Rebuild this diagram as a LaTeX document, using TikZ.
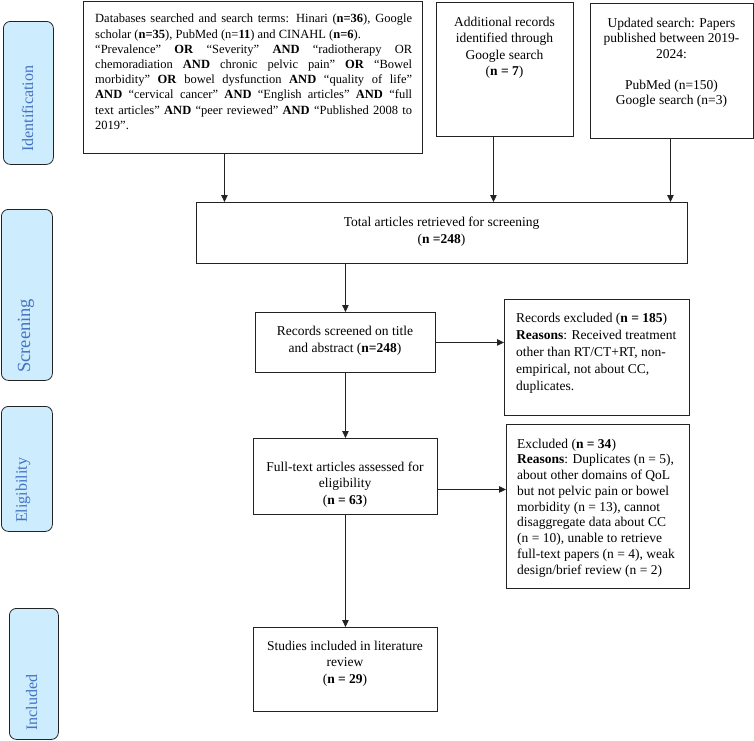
\documentclass[tikz,border=0pt]{standalone}
\usepackage{fontspec}
\setmainfont{Liberation Serif}
\usetikzlibrary{arrows.meta}
\definecolor{lblfill}{RGB}{205,236,253}
\definecolor{lbltext}{RGB}{68,114,196}
\definecolor{edgec}{RGB}{35,35,35}
\begin{document}
\begin{tikzpicture}[x=1pt,y=-1pt,
  box/.style={draw=edgec, line width=0.9pt, inner sep=0pt, anchor=north west},
  lbl/.style={draw=edgec, fill=lblfill, line width=0.8pt, rounded corners=7pt, inner sep=0pt, anchor=north west},
  lbltxt/.style={rotate=90, anchor=base west, inner sep=0pt, text=lbltext, font=\fontsize{16}{19}\selectfont},
  ctxt/.style={anchor=north, inner sep=0pt, align=center, font=\fontsize{13.5}{16.5}\selectfont},
  ltxt/.style={anchor=north west, inner sep=0pt, align=left, font=\fontsize{13.5}{16.5}\selectfont},
  arr/.style={draw=edgec, line width=0.9pt, -{Triangle[length=7pt,width=6.5pt]}}]
\useasboundingbox (0,0) rectangle (754,740);

% stage labels
\node[lbl, minimum width=50pt, minimum height=143pt] (idl) at (3,21) {};
\node[lbltxt] (idt) at (33,152) {Identification};
\node[lbl, minimum width=51pt, minimum height=171pt] (scl) at (1,209) {};
\node[lbltxt, font=\fontsize{18.5}{22}\selectfont] (sct) at (30,373) {Screening};
\node[lbl, minimum width=51pt, minimum height=125pt] (ell) at (1,406) {};
\node[lbltxt] (elt) at (27,523) {Eligibility};
\node[lbl, minimum width=49pt, minimum height=131pt] (inl) at (9,608) {};
\node[lbltxt] (int) at (37,731) {Included};

% boxes
\node[box, minimum width=339pt, minimum height=152.5pt] (db) at (83,0.5) {};
\node[box, minimum width=137pt, minimum height=134pt] (add) at (436,2) {};
\node[box, minimum width=163pt, minimum height=135pt] (upd) at (590,3) {};
\node[box, minimum width=491pt, minimum height=61pt] (tot) at (196,202) {};
\node[box, minimum width=180pt, minimum height=60pt] (rec) at (255,312) {};
\node[box, minimum width=185pt, minimum height=116pt] (exc) at (504,299) {};
\node[box, minimum width=184pt, minimum height=76pt] (ful) at (253,438) {};
\node[box, minimum width=183pt, minimum height=164pt] (ex2) at (506,424) {};
\node[box, minimum width=184pt, minimum height=84pt] (inc) at (253,627) {};

% texts
\node[anchor=north west, inner sep=0pt, text width=317pt, align=justify,
      font=\fontsize{12.5}{15.2}\selectfont] (dbt) at (95,14) {\tolerance=10000\hyphenpenalty=10000
Databases searched and search terms: Hinari (\textbf{n=36}), Google\linebreak
scholar (\textbf{n=35}), PubMed (n=\textbf{11}) and CINAHL (\textbf{n=6}).\newline
“Prevalence” \textbf{OR} “Severity” \textbf{AND} “radiotherapy OR\linebreak
chemoradiation \textbf{AND} chronic pelvic pain” \textbf{OR} “Bowel\linebreak
morbidity” \textbf{OR} bowel dysfunction \textbf{AND} “quality of life”\linebreak
\textbf{AND} “cervical cancer” \textbf{AND} “English articles” \textbf{AND} “full\linebreak
text articles” \textbf{AND} “peer reviewed” \textbf{AND} “Published 2008 to\linebreak
2019”.};
\node[ctxt] (addt) at (504.5,16.5) {Additional records\\identified through\\Google search\\(\textbf{n = 7})};
\node[ctxt, font=\fontsize{13.5}{15.5}\selectfont] (updt) at (671.5,17.5) {Updated search: Papers\\published between 2019-\\2024:\\[15.5pt]PubMed (n=150)\\Google search (n=3)};
\node[ctxt, font=\fontsize{13.5}{17}\selectfont] (tott) at (441.5,216.5) {Total articles retrieved for screening\\(\textbf{n =248})};
\node[ctxt, font=\fontsize{13.5}{17}\selectfont] (rect) at (345,325.5) {Records screened on title\\and abstract (\textbf{n=248})};
\node[ltxt, font=\fontsize{13.5}{17.2}\selectfont] (exct) at (516,312.5) {Records excluded (\textbf{n = 185})\\\textbf{Reasons}: Received treatment\\other than RT/CT+RT, non-\\empirical, not about CC,\\duplicates.};
\node[ctxt] (fult) at (345,461.5) {Full-text articles assessed for\\eligibility\\(\textbf{n = 63})};
\node[ltxt, font=\fontsize{13.5}{15.75}\selectfont] (ex2t) at (517,438.5) {Excluded (\textbf{n = 34})\\\textbf{Reasons}: Duplicates (n = 5),\\about other domains of QoL\\but not pelvic pain or bowel\\morbidity (n = 13), cannot\\disaggregate data about CC\\(n = 10), unable to retrieve\\full-text papers (n = 4), weak\\design/brief review (n = 2)};
\node[ctxt] (inct) at (345,640.5) {Studies included in literature\\review\\(\textbf{n = 29})};

% connectors
\draw[arr] ([xshift=-28.5pt]db.south) -- ([xshift=-28.5pt]db.south |- tot.north);
\draw[arr] ([xshift=-11.5pt]add.south) -- ([xshift=-11.5pt]add.south |- tot.north);
\draw[arr] ([xshift=-1.5pt]upd.south) -- ([xshift=-1.5pt]upd.south |- tot.north);
\draw[arr] (tot.south -| rec.north) -- (rec.north);
\draw[arr] (rec.east) -- (rec.east -| exc.west);
\draw[arr] (rec.south) -- (ful.north);
\draw[arr] ([yshift=-13pt]ful.east) -- ([yshift=-13pt]ful.east -| ex2.west);
\draw[arr] (ful.south) -- (inc.north);
\end{tikzpicture}
\end{document}
